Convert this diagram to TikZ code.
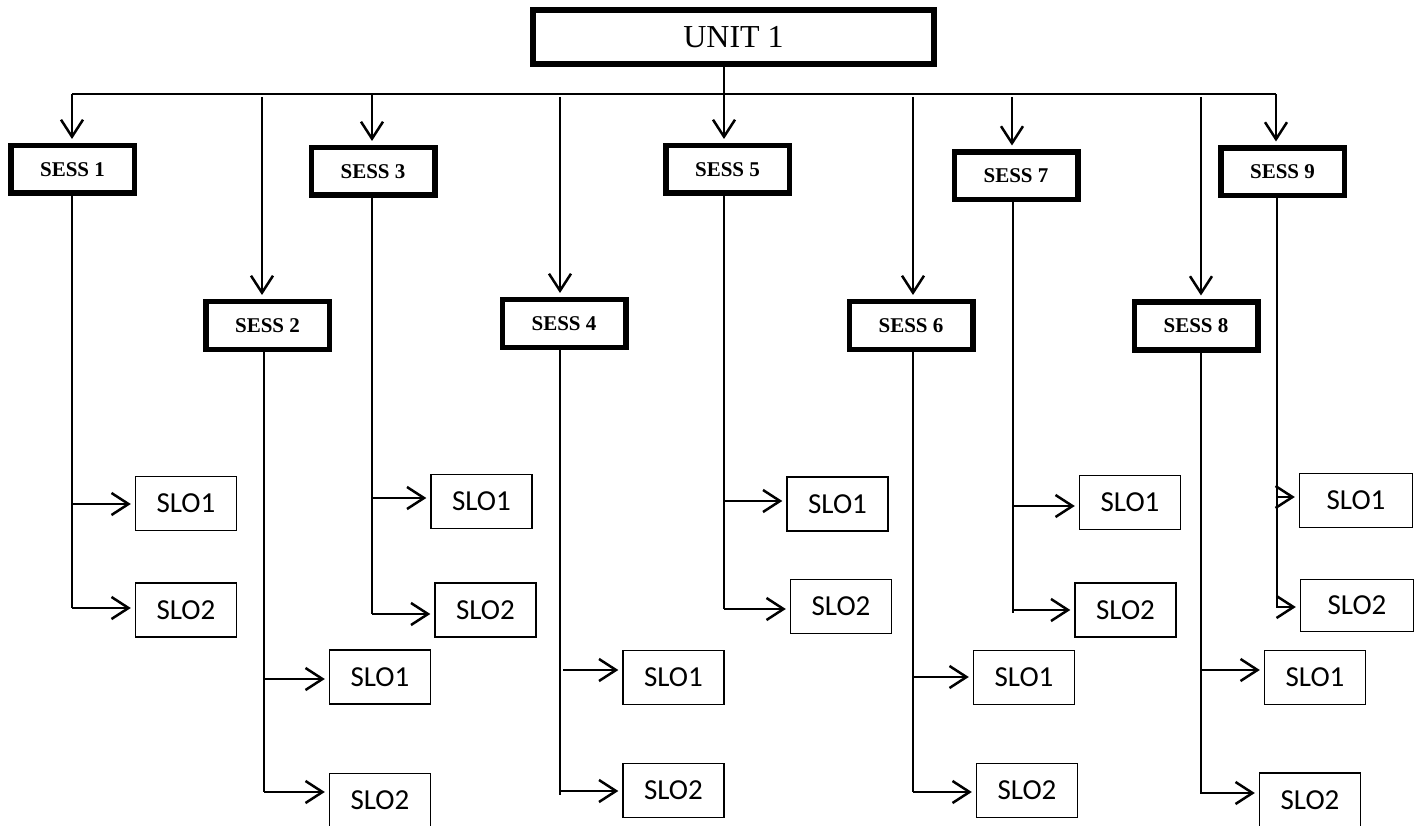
\documentclass[tikz,border=0pt]{standalone}
\usepackage{fontspec}
\setmainfont{Liberation Serif}
\newfontfamily\slofam{Carlito}
\usetikzlibrary{arrows.meta}
\begin{document}
\begin{tikzpicture}[x=1pt,y=-1pt,
 unitbox/.style={draw,line width=5.5pt,minimum width=401pt,minimum height=54pt,inner sep=0pt,font=\fontsize{32}{36}\selectfont},
 sessbox/.style={draw,line width=5.5pt,minimum width=123.5pt,minimum height=47.5pt,inner sep=0pt,font=\fontsize{21}{25}\selectfont\bfseries},
 slobox/.style={draw,line width=1.4pt,minimum width=101pt,minimum height=54pt,inner sep=0pt,font=\slofam\fontsize{29}{33}\selectfont},
 wideslo/.style={slobox,minimum width=113pt},
 bus/.style={line width=1.9pt},
 stem/.style={line width=2.2pt},
 arr/.style={line width=2.2pt,-{Straight Barb[length=17pt,width=22pt,line width=2.5pt]},shorten >=4pt}
]
\useasboundingbox (0,0) rectangle (1419,826);

% top
\node[unitbox] (unit) at (733.5,37) {UNIT 1};

% sessions
\node[sessbox] (s1) at (72.5,169.5) {SESS 1};
\node[sessbox] (s2) at (267.5,325.5) {SESS 2};
\node[sessbox] (s3) at (373,171.5) {SESS 3};
\node[sessbox] (s4) at (564,323.5) {SESS 4};
\node[sessbox] (s5) at (727.5,169.5) {SESS 5};
\node[sessbox] (s6) at (911,325.5) {SESS 6};
\node[sessbox] (s7) at (1016,176) {SESS 7};
\node[sessbox] (s8) at (1196,326) {SESS 8};
\node[sessbox] (s9) at (1282.5,172) {SESS 9};

% SLO boxes
\node[slobox] (la1) at (186,503.5) {SLO1};
\node[slobox] (lb1) at (186,610) {SLO2};
\node[slobox] (la2) at (380,677) {SLO1};
\node[slobox] (lb2) at (380,800.5) {SLO2};
\node[slobox] (la3) at (481.5,501.5) {SLO1};
\node[slobox] (lb3) at (485.5,610) {SLO2};
\node[slobox] (la4) at (673.5,677.5) {SLO1};
\node[slobox] (lb4) at (673.5,790.5) {SLO2};
\node[slobox] (la5) at (837.5,504) {SLO1};
\node[slobox] (lb5) at (841,606.5) {SLO2};
\node[slobox] (la6) at (1024,677.5) {SLO1};
\node[slobox] (lb6) at (1027,790.5) {SLO2};
\node[slobox] (la7) at (1130,502.5) {SLO1};
\node[slobox] (lb7) at (1125.5,610) {SLO2};
\node[slobox] (la8) at (1315,677.5) {SLO1};
\node[slobox] (lb8) at (1310,800) {SLO2};
\node[wideslo] (la9) at (1356,500.5) {SLO1};
\node[wideslo,minimum height=52pt] (lb9) at (1357,605.5) {SLO2};

% bus
\coordinate (b1) at (72,94);
\coordinate (b9) at (1276,94);
\draw[bus] (b1) -- (b9);
\coordinate (b2) at (262,97);
\coordinate (b3) at (372,94);
\coordinate (b4) at (560,97);
\coordinate (b5) at (724,94);
\coordinate (b6) at (913,97);
\coordinate (b7) at (1012,97);
\coordinate (b8) at (1201,97);

\draw[arr] (b1) -- (b1 |- s1.north);
\draw[arr] (b2) -- (b2 |- s2.north);
\draw[arr] (b3) -- (b3 |- s3.north);
\draw[arr] (b4) -- (b4 |- s4.north);
\draw[arr] (unit.south -| b5) -- (b5 |- s5.north);
\draw[arr] (b6) -- (b6 |- s6.north);
\draw[arr] (b7) -- (b7 |- s7.north);
\draw[arr] (b8) -- (b8 |- s8.north);
\draw[arr] (b9) -- (b9 |- s9.north);

% stems
\coordinate (e1) at (72,608);
\coordinate (e2) at (264,792);
\coordinate (e3) at (372,614);
\coordinate (e4) at (560,795);
\coordinate (e5) at (724,609);
\coordinate (e6) at (913,792);
\coordinate (e7) at (1013,613);
\coordinate (e8) at (1201,794);
\coordinate (e9) at (1277,608);
\foreach \i in {1,...,9} {\draw[stem] (e\i |- s\i.south) -- (e\i);}

% arrows to SLOs
\coordinate (pa1) at (72,504);   \coordinate (pb1) at (72,608);
\coordinate (pa2) at (264,679);  \coordinate (pb2) at (264,792);
\coordinate (pa3) at (372,498);  \coordinate (pb3) at (372,614);
\coordinate (pa4) at (563,670);  \coordinate (pb4) at (560,791);
\coordinate (pa5) at (724,501);  \coordinate (pb5) at (724,609);
\coordinate (pa6) at (913,677);  \coordinate (pb6) at (913,792);
\coordinate (pa7) at (1013,506); \coordinate (pb7) at (1013,610);
\coordinate (pa8) at (1201,670); \coordinate (pb8) at (1201,793);
\coordinate (pa9) at (1277,497); \coordinate (pb9) at (1277,607);
\foreach \i in {1,...,9} {
  \draw[arr] (pa\i) -- (pa\i -| la\i.west);
  \draw[arr] (pb\i) -- (pb\i -| lb\i.west);
}
\end{tikzpicture}
\end{document}
